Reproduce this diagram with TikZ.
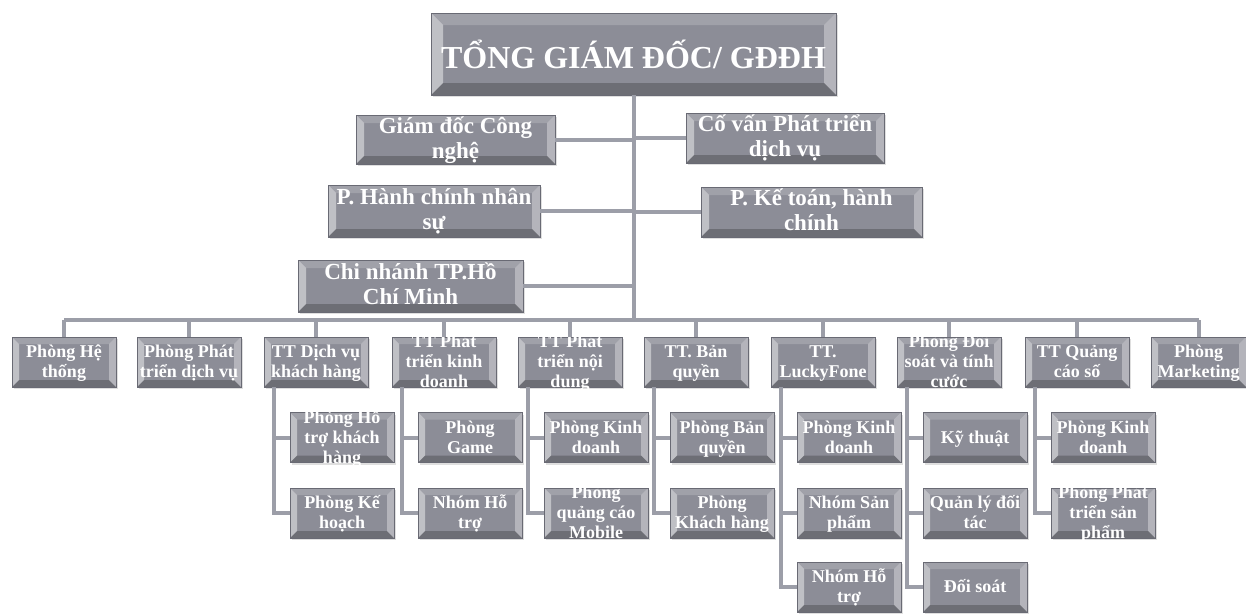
\documentclass[tikz,border=0pt]{standalone}
\usepackage{fontspec}
\setmainfont{Liberation Serif}
\usepackage{tikz}
\usetikzlibrary{calc,shadows}
\definecolor{boxgray}{RGB}{140,141,151}
\definecolor{edgegray}{RGB}{105,106,116}
\definecolor{linegray}{RGB}{156,158,168}

\newcommand{\boxtxt}[1]{\smash{\raisebox{-0.33em}{\begin{tabular}{@{}c@{}}#1\end{tabular}}}}

\tikzset{
  bevel/.style={path picture={
    \path (path picture bounding box.south west) coordinate (bSW)
          (path picture bounding box.north east) coordinate (bNE)
          (path picture bounding box.north west) coordinate (bNW)
          (path picture bounding box.south east) coordinate (bSE);
    \fill[white,opacity=.45] (bSW) -- (bNW) -- ([xshift=#1,yshift=-#1]bNW) -- ([xshift=#1,yshift=#1]bSW) -- cycle;
    \fill[white,opacity=.35] (bSE) -- (bNE) -- ([xshift=-#1,yshift=-#1]bNE) -- ([xshift=-#1,yshift=#1]bSE) -- cycle;
    \fill[white,opacity=.18] (bNW) -- (bNE) -- ([xshift=-#1,yshift=-#1]bNE) -- ([xshift=#1,yshift=-#1]bNW) -- cycle;
    \fill[black,opacity=.22] (bSW) -- (bSE) -- ([xshift=-#1,yshift=#1]bSE) -- ([xshift=#1,yshift=#1]bSW) -- cycle;
  }},
  orgbox/.style={rectangle, draw=edgegray, line width=0.8pt, fill=boxgray, text=white,
    inner sep=0pt, bevel=#1, drop shadow={shadow xshift=1.5pt, shadow yshift=-2pt, opacity=.25}},
  topfont/.style={font=\fontsize{32}{34}\selectfont\bfseries},
  midfont/.style={font=\fontsize{23}{25}\selectfont\bfseries},
  lowfont/.style={font=\fontsize{18}{20}\selectfont\bfseries}
}

\begin{document}
\begin{tikzpicture}[x=1pt,y=-1pt]
	\useasboundingbox (0,0) rectangle (1246,613);
	\fill[white] (0,0) rectangle (1246,613);

	% top
	\begin{scope}[every node/.style={orgbox=12pt, topfont}]
	    \node[minimum width=405pt, minimum height=82pt] (tgd) at (633.5,54) {TỔNG GIÁM ĐỐC/ GĐĐH};
	\end{scope}

	% level 2
	\begin{scope}[every node/.style={orgbox=8pt, midfont}]
	    \node[minimum width=199pt, minimum height=49pt] (gdcn) at (455.5,139.5) {\boxtxt{Giám đốc Công\\nghệ}};
	    \node[minimum width=198pt, minimum height=50pt] (covan) at (785,138) {\boxtxt{Cố vấn Phát triển\\dịch vụ}};
	    \node[minimum width=212pt, minimum height=52pt] (hcns) at (434,211) {\boxtxt{P. Hành chính nhân\\sự}};
	    \node[minimum width=221pt, minimum height=50pt] (ketoan) at (811.5,212) {\boxtxt{P. Kế toán, hành\\chính}};
	    \node[minimum width=225pt, minimum height=52pt] (chinhanh) at (410.5,286) {\boxtxt{Chi nhánh TP.Hồ\\Chí Minh}};
	\end{scope}

	% level 3
	\begin{scope}[every node/.style={orgbox=7pt, lowfont, minimum width=104pt, minimum height=50pt}]
	    \node (hethong) at (64,362) {\boxtxt{Phòng Hệ\\thống}};
	    \node (ptdv) at (189,362) {\boxtxt{Phòng Phát\\triển dịch vụ}};
	    \node (dvkh) at (316,362) {\boxtxt{TT Dịch vụ\\khách hàng}};
	    \node (ptkd) at (444,362) {\boxtxt{TT Phát\\triển kinh\\doanh}};
	    \node (ptnd) at (570,362) {\boxtxt{TT Phát\\triển nội\\dung}};
	    \node (banquyen) at (696,362) {\boxtxt{TT. Bản\\quyền}};
	    \node (lucky) at (823,362) {\boxtxt{TT.\\LuckyFone}};
	    \node (doisoat) at (949,362) {\boxtxt{Phòng Đối\\soát và tính\\cước}};
	    \node (qcs) at (1077,362) {\boxtxt{TT Quảng\\cáo số}};
	    \node[minimum width=95pt] (mkt) at (1198.5,362) {\boxtxt{Phòng\\Marketing}};

	    % children
	    \node (dvkh1) at (342,437.5) {\boxtxt{Phòng Hỗ\\trợ khách\\hàng}};
	    \node (dvkh2) at (342,513) {\boxtxt{Phòng Kế\\hoạch}};
	    \node (ptkd1) at (470,437.5) {\boxtxt{Phòng\\Game}};
	    \node (ptkd2) at (470,513) {\boxtxt{Nhóm Hỗ\\trợ}};
	    \node (ptnd1) at (596,437.5) {\boxtxt{Phòng Kinh\\doanh}};
	    \node (ptnd2) at (596,513) {\boxtxt{Phòng\\quảng cáo\\Mobile}};
	    \node (banquyen1) at (722,437.5) {\boxtxt{Phòng Bản\\quyền}};
	    \node (banquyen2) at (722,513) {\boxtxt{Phòng\\Khách hàng}};
	    \node (lucky1) at (849,437.5) {\boxtxt{Phòng Kinh\\doanh}};
	    \node (lucky2) at (849,513) {\boxtxt{Nhóm Sản\\phẩm}};
	    \node (lucky3) at (849,587) {\boxtxt{Nhóm Hỗ\\trợ}};
	    \node (doisoat1) at (975,437.5) {\boxtxt{Kỹ thuật}};
	    \node (doisoat2) at (975,513) {\boxtxt{Quản lý đối\\tác}};
	    \node (doisoat3) at (975,587) {\boxtxt{Đối soát}};
	    \node (qcs1) at (1103,437.5) {\boxtxt{Phòng Kinh\\doanh}};
	    \node (qcs2) at (1103,513) {\boxtxt{Phòng Phát\\triển sản\\phẩm}};
	\end{scope}

	% connectors
	\begin{scope}[draw=linegray, line width=4pt]
	    \coordinate (bus) at (0,320);
	    \draw (tgd) -- (tgd |- bus);
	    \draw (hethong |- bus) -- (mkt |- bus);
	    \foreach \n in {gdcn,covan,hcns,ketoan,chinhanh}
	        \draw (\n) -- (\n -| tgd);
	    \foreach \n in {hethong,ptdv,dvkh,ptkd,ptnd,banquyen,lucky,doisoat,qcs,mkt}
	        \draw (\n) -- (\n |- bus);
	    \foreach \p/\c in {dvkh/dvkh1,dvkh/dvkh2,ptkd/ptkd1,ptkd/ptkd2,ptnd/ptnd1,ptnd/ptnd2,
	                       banquyen/banquyen1,banquyen/banquyen2,lucky/lucky1,lucky/lucky2,lucky/lucky3,
	                       doisoat/doisoat1,doisoat/doisoat2,doisoat/doisoat3,qcs/qcs1,qcs/qcs2}
	        \draw ([xshift=10pt]\p.south west) |- (\c);
	\end{scope}
\end{tikzpicture}
\end{document}
